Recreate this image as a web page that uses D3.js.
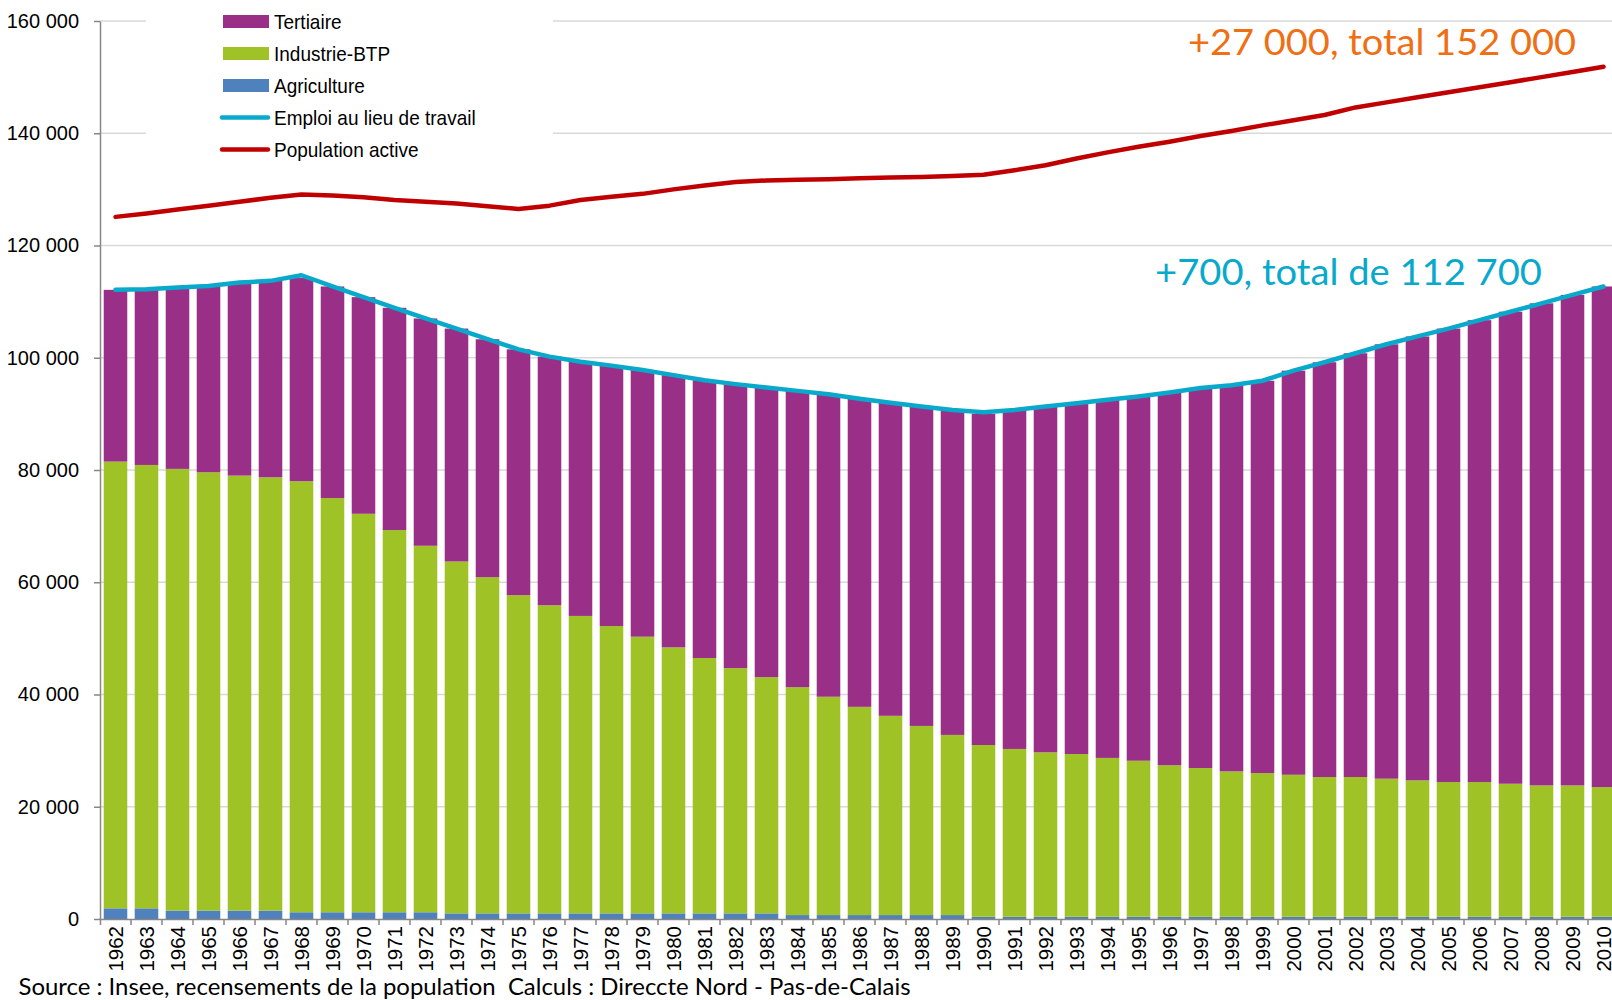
<!DOCTYPE html>
<html>
<head>
<meta charset="utf-8">
<script src="https://cdn.jsdelivr.net/npm/d3@7"></script>
<style>
body { margin: 0; background: #fff; }
svg { display: block; }
</style>
</head>
<body>
<script>
var years = ["1962","1963","1964","1965","1966","1967","1968","1969","1970","1971",
    "1972","1973","1974","1975","1976","1977","1978","1979","1980","1981",
    "1982","1983","1984","1985","1986","1987","1988","1989","1990","1991",
    "1992","1993","1994","1995","1996","1997","1998","1999","2000","2001",
    "2002","2003","2004","2005","2006","2007","2008","2009","2010"];

var agriculture = [1900, 1900, 1500, 1500, 1500, 1500, 1200, 1200, 1200, 1200,
    1200, 1000, 1000, 1000, 1000, 1000, 1000, 1000, 1000, 1000,
    1000, 1000, 700, 700, 700, 700, 700, 700, 400, 400,
    400, 400, 400, 400, 400, 400, 400, 400, 400, 400,
    400, 400, 400, 400, 400, 400, 400, 400, 400];

var industrie = [79600, 79000, 78700, 78100, 77500, 77200, 76800, 73800, 71000, 68100,
    65300, 62700, 59900, 56700, 54900, 53000, 51200, 49300, 47400, 45500,
    43700, 42100, 40600, 38900, 37100, 35500, 33700, 32100, 30600, 29900,
    29300, 29000, 28300, 27800, 27000, 26500, 25900, 25600, 25300, 24900,
    24900, 24600, 24300, 24000, 24000, 23700, 23400, 23400, 23100];

var tertiaire = [30600, 31300, 32300, 33200, 34400, 35000, 36200, 37700, 38600, 39600,
    40500, 41500, 42400, 43800, 44300, 45300, 46400, 47500, 48500, 49500,
    50600, 51600, 52800, 53900, 54900, 55800, 56900, 57900, 59000, 60400,
    61600, 62500, 63800, 64900, 66400, 67700, 68800, 69900, 72000, 73900,
    75500, 77400, 79100, 80800, 82300, 84100, 85900, 87400, 89200];

var emploi = [112100, 112200, 112500, 112800, 113400, 113700, 114700, 112700, 110800, 108900,
    107000, 105200, 103300, 101500, 100200, 99300, 98600, 97800, 96900, 96000,
    95300, 94700, 94100, 93500, 92700, 92000, 91300, 90700, 90300, 90700,
    91300, 91900, 92500, 93100, 93800, 94600, 95100, 95900, 97700, 99200,
    100800, 102400, 103800, 105200, 106700, 108200, 109700, 111200, 112700];

var populationActive = [125100, 125700, 126400, 127100, 127800, 128500, 129100, 128900, 128600, 128100,
    127800, 127500, 127000, 126500, 127100, 128100, 128700, 129200, 130000, 130700,
    131300, 131600, 131700, 131800, 132000, 132100, 132200, 132400, 132600, 133400,
    134300, 135500, 136600, 137600, 138500, 139500, 140400, 141400, 142300, 143250,
    144600, 145500, 146400, 147300, 148200, 149100, 150000, 150900, 151850];

var yTicks = [0, 20000, 40000, 60000, 80000, 100000, 120000, 140000, 160000];

var legendNames = ["Tertiaire", "Industrie-BTP", "Agriculture", "Emploi au lieu de travail", "Population active"];
var noteActive = "+27 000, total 152 000";
var noteEmploi = "+700, total de 112 700";
var sourceText = "Source : Insee, recensements de la population  Calculs : Direccte Nord - Pas-de-Calais";

var width = 1612;
var height = 1000;
var plotLeft = 100;
var plotTop = 21;
var plotBottom = 919;
var step = 31;
var axisColor = "#868686";
var labelFont = "'Liberation Sans', Arial, sans-serif";
var noteFont = "Lato, 'Open Sans', sans-serif";

var colors = {
    agriculture: "#4f81bd",
    industrie: "#9fc226",
    tertiaire: "#9a2f87",
    emploi: "#08a9cb",
    active: "#c00000"
};

var svg = d3.select("body").append("svg")
    .attr("width", width)
    .attr("height", height)
    .style("background", "#fff");

var xScale = d3.scaleBand()
    .domain(years)
    .range([plotLeft, plotLeft + step * years.length])
    .paddingInner(0.24)
    .paddingOuter(0.12);

var yScale = d3.scaleLinear()
    .domain([0, 160000])
    .range([plotBottom, plotTop]);

// gridlines
svg.append("g")
    .selectAll("line")
    .data(yTicks.slice(1))
    .enter()
    .append("line")
    .attr("x1", plotLeft)
    .attr("x2", plotLeft + step * years.length)
    .attr("y1", function(d) { return yScale(d); })
    .attr("y2", function(d) { return yScale(d); })
    .attr("stroke", "#d9d9d9")
    .attr("stroke-width", 1.3);

// legend background hides the gridlines behind it
svg.append("rect")
    .attr("x", 146)
    .attr("y", 0)
    .attr("width", 407)
    .attr("height", 168)
    .attr("fill", "#fff");

// stacked bars
var table = years.map(function(y, i) {
    return { year: y, agriculture: agriculture[i], industrie: industrie[i], tertiaire: tertiaire[i] };
});
var stacked = d3.stack().keys(["agriculture", "industrie", "tertiaire"])(table);

svg.append("g")
    .selectAll("g")
    .data(stacked)
    .enter()
    .append("g")
    .attr("fill", function(d) { return colors[d.key]; })
    .selectAll("rect")
    .data(function(d) { return d; })
    .enter()
    .append("rect")
    .attr("x", function(d) { return xScale(d.data.year); })
    .attr("y", function(d) { return yScale(d[1]); })
    .attr("width", xScale.bandwidth())
    .attr("height", function(d) { return yScale(d[0]) - yScale(d[1]); });

// y axis
var gy = svg.append("g")
    .attr("transform", "translate(" + plotLeft + ",0)")
    .call(d3.axisLeft(yScale)
        .tickValues(yTicks)
        .tickSize(6)
        .tickSizeOuter(0)
        .tickFormat(function(d) { return d3.format(",")(d).replace(/,/g, " "); }));
gy.select(".domain").attr("stroke", axisColor).attr("stroke-width", 1.5);
gy.selectAll(".tick line").attr("stroke", axisColor).attr("stroke-width", 1.5);
gy.selectAll(".tick text")
    .attr("font-family", labelFont)
    .attr("font-size", 20)
    .attr("fill", "#000")
    .attr("x", -21);

// x axis, ticks between the bars
var gx = svg.append("g")
    .attr("transform", "translate(0," + plotBottom + ")")
    .call(d3.axisBottom(xScale).tickSize(6).tickSizeOuter(6));
gx.select(".domain").attr("stroke", axisColor).attr("stroke-width", 1.5);
gx.selectAll(".tick line")
    .attr("stroke", axisColor)
    .attr("stroke-width", 1.5)
    .attr("transform", "translate(" + xScale.step() / 2 + ",0)");
gx.selectAll(".tick text")
    .attr("font-family", labelFont)
    .attr("font-size", 20.5)
    .attr("fill", "#000")
    .attr("x", 0)
    .attr("y", 0)
    .attr("dy", "0.35em")
    .attr("text-anchor", "end")
    .attr("transform", "translate(0,7) rotate(-90)");

// lines
var line = d3.line()
    .x(function(d, i) { return xScale(years[i]) + xScale.bandwidth() / 2; })
    .y(function(d) { return yScale(d); });

svg.append("path")
    .datum(emploi)
    .attr("d", line)
    .attr("fill", "none")
    .attr("stroke", colors.emploi)
    .attr("stroke-width", 4.5)
    .attr("stroke-linejoin", "round")
    .attr("stroke-linecap", "round");

svg.append("path")
    .datum(populationActive)
    .attr("d", line)
    .attr("fill", "none")
    .attr("stroke", colors.active)
    .attr("stroke-width", 4.5)
    .attr("stroke-linejoin", "round")
    .attr("stroke-linecap", "round");

// legend
var legendKinds = ["rect", "rect", "rect", "line", "line"];
var legendColors = [colors.tertiaire, colors.industrie, colors.agriculture, colors.emploi, colors.active];
var legend = svg.append("g")
    .selectAll("g")
    .data(legendNames)
    .enter()
    .append("g")
    .attr("transform", function(d, i) { return "translate(223," + (21.5 + i * 32) + ")"; });

legend.filter(function(d, i) { return legendKinds[i] === "rect"; })
    .append("rect")
    .attr("x", 0)
    .attr("y", -6.5)
    .attr("width", 46)
    .attr("height", 13)
    .attr("fill", function(d) { return legendColors[legendNames.indexOf(d)]; });

legend.filter(function(d, i) { return legendKinds[i] === "line"; })
    .append("line")
    .attr("x1", -1)
    .attr("x2", 45)
    .attr("stroke", function(d) { return legendColors[legendNames.indexOf(d)]; })
    .attr("stroke-width", 4.5)
    .attr("stroke-linecap", "round");

legend.append("text")
    .attr("x", 51 / 0.95)
    .attr("dy", "0.35em")
    .attr("transform", "scale(0.95,1)")
    .attr("font-family", labelFont)
    .attr("font-size", 20)
    .attr("fill", "#000")
    .text(function(d) { return d; });

// notes
svg.append("text")
    .attr("x", 1188)
    .attr("y", 55)
    .attr("font-family", noteFont)
    .attr("font-size", 37)
    .attr("fill", "#ee6f14")
    .attr("textLength", 388)
    .attr("lengthAdjust", "spacingAndGlyphs")
    .text(noteActive);

svg.append("text")
    .attr("x", 1155)
    .attr("y", 285)
    .attr("font-family", noteFont)
    .attr("font-size", 37)
    .attr("fill", colors.emploi)
    .attr("textLength", 387)
    .attr("lengthAdjust", "spacingAndGlyphs")
    .text(noteEmploi);

svg.append("text")
    .attr("x", 18.5)
    .attr("y", 995)
    .attr("font-family", noteFont)
    .attr("font-size", 23)
    .attr("fill", "#000")
    .attr("textLength", 892)
    .attr("lengthAdjust", "spacingAndGlyphs")
    .style("white-space", "pre")
    .text(sourceText);
</script>
</body>
</html>
